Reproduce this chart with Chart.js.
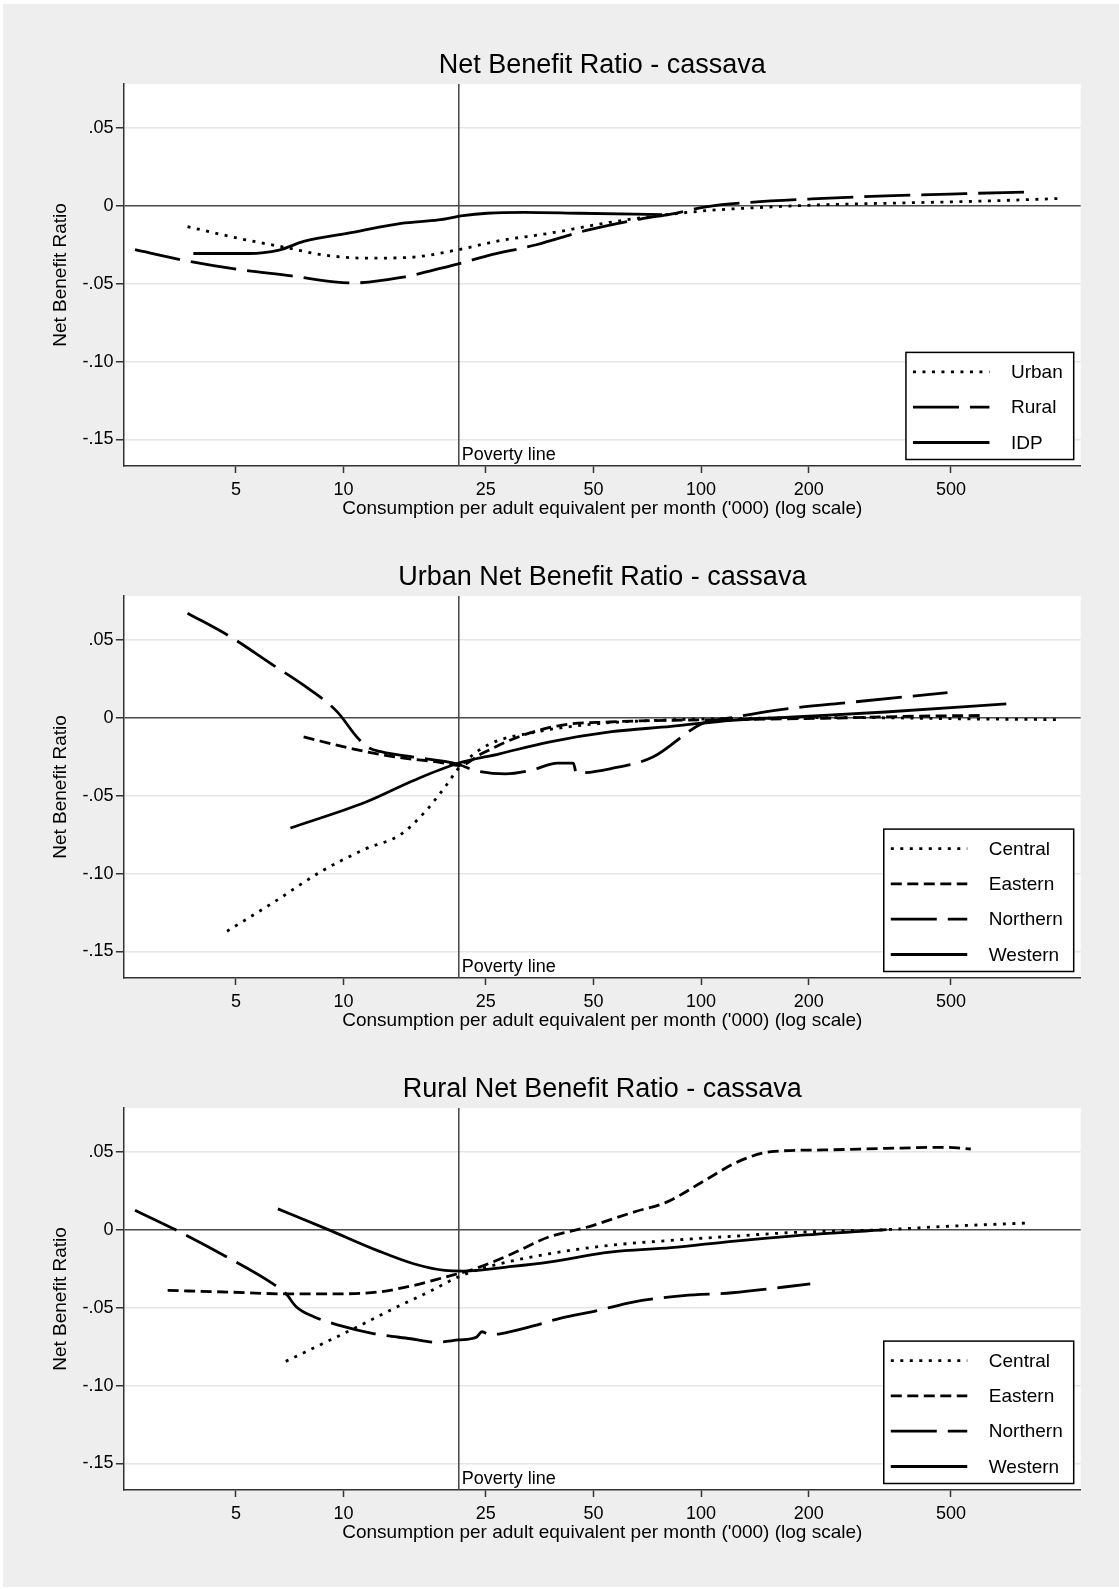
<!DOCTYPE html>
<html>
<head>
<meta charset="UTF-8">
<title>Net Benefit Ratio - cassava</title>
<script src="https://cdn.jsdelivr.net/npm/chart.js"></script>
<style>
  body { margin: 0; background: #fff; font-family: "Liberation Sans", Arial, sans-serif; }
  #fig { position: absolute; left: 3px; top: 4px; width: 1116px; height: 1583px; background: #eeeeee; }
  canvas { position: absolute; left: 0; }
</style>
</head>
<body>
<div id="fig"></div>
<canvas id="c1" width="1119" height="512" style="top:18px"></canvas>
<canvas id="c2" width="1119" height="512" style="top:530px"></canvas>
<canvas id="c3" width="1119" height="512" style="top:1042px"></canvas>

<script>
// axis settings
const xTicks = [5, 10, 25, 50, 100, 200, 500];
const xTickLabels = ['5', '10', '25', '50', '100', '200', '500'];
const yTicks = [0.05, 0, -0.05, -0.10, -0.15];
const yTickLabels = ['.05', '0', '-.05', '-.10', '-.15'];
const povertyLine = 21.0;

// national: Urban / Rural / IDP
const urbanX = [3.66, 5.21, 6.87, 8.71, 11.5, 15.1, 20.7, 27.3, 37.5, 55.6, 76.2, 104, 149, 221, 328, 593, 1025];
const urbanY = [-0.0135, -0.0215, -0.0268, -0.0315, -0.0337, -0.0333, -0.0285, -0.0225, -0.0178, -0.0107, -0.0064, -0.0032, -0.0011, 0.0006, 0.0015, 0.0028, 0.0046];
const ruralX = [2.61, 3.52, 5.01, 7.15, 9.41, 10.6, 14.5, 19.9, 21.6, 25.2, 34.6, 47.4, 67.6, 82.4, 104.4, 137.7, 204, 328, 547, 800];
const ruralY = [-0.0283, -0.0348, -0.0408, -0.0451, -0.0489, -0.0496, -0.0461, -0.0386, -0.0365, -0.0322, -0.0251, -0.0161, -0.0086, -0.0054, -0.0006, 0.0021, 0.0043, 0.0062, 0.0077, 0.0087];
const idpX = [3.80, 5.42, 6.6, 7.73, 10.6, 14.5, 18.4, 21.6, 25.2, 32, 45.6, 77.8];
const idpY = [-0.0307, -0.0307, -0.0285, -0.023, -0.0172, -0.0114, -0.0092, -0.0064, -0.0049, -0.0043, -0.0049, -0.0058];

// urban regions
const uCentralX = [4.72, 6.35, 8.71, 11.5, 14.5, 17.0, 19.2, 21.1, 25.2, 34.6, 51.4, 76.2, 122, 269, 593, 1009];
const uCentralY = [-0.137, -0.1187, -0.0983, -0.0843, -0.0747, -0.0597, -0.0446, -0.0318, -0.0178, -0.0092, -0.0039, -0.0017, -0.0006, 0.0, -0.0009, -0.0013];
const uEasternX = [7.73, 10.6, 14.0, 18.4, 21.1, 24.3, 30.8, 40.5, 55.6, 82.4, 122, 221, 399, 617];
const uEasternY = [-0.0124, -0.020, -0.0253, -0.0285, -0.0307, -0.0232, -0.0124, -0.0049, -0.0028, -0.0017, -0.0013, -0.0004, 0.0009, 0.0014];
const uNorthernX = [3.66, 4.82, 6.35, 7.73, 9.6, 10.9, 11.7, 12.8, 15.7, 20.7, 23.3, 28.4, 33.3, 39.7, 43.9, 44.8, 55.6, 73.3, 100.5, 122, 161, 269, 489];
const uNorthernY = [0.067, 0.0519, 0.0337, 0.0208, 0.0037, -0.0125, -0.019, -0.022, -0.0253, -0.0296, -0.0339, -0.0361, -0.0339, -0.0292, -0.0292, -0.0356, -0.0328, -0.0253, -0.0039, 0.0, 0.0047, 0.0101, 0.016];
const uWesternX = [7.1, 11.5, 15.7, 20.7, 27.3, 37.5, 55.6, 82.4, 122, 182, 328, 714];
const uWesternY = [-0.0708, -0.0543, -0.0403, -0.0296, -0.0232, -0.0157, -0.0092, -0.0056, -0.0017, 0.0004, 0.0036, 0.0088];

// rural regions
const rCentralX = [6.89, 8.67, 10.9, 13.7, 17.3, 21.0, 25.2, 37.5, 55.6, 82.4, 122, 182, 328, 486, 830];
const rCentralY = [-0.0845, -0.0735, -0.0625, -0.051, -0.040, -0.0302, -0.024, -0.0155, -0.0101, -0.0069, -0.0043, -0.0018, 0.0, 0.0021, 0.0043];
const rEasternX = [3.22, 4.82, 6.87, 9.42, 12.4, 15.7, 19.2, 23.3, 29.6, 37.5, 47.5, 65.1, 80.4, 101, 127, 157, 221, 328, 483, 568];
const rEasternY = [-0.039, -0.0401, -0.0412, -0.0412, -0.0401, -0.0358, -0.0305, -0.0251, -0.0155, -0.0047, 0.0013, 0.0114, 0.0178, 0.0307, 0.0436, 0.050, 0.0511, 0.0521, 0.0528, 0.0517];
const rNorthernX = [2.61, 3.38, 4.72, 6.35, 6.89, 7.38, 8.28, 9.73, 12.2, 15.4, 18.1, 21.0, 23.5, 24.4, 25.5, 27.4, 34.4, 40.3, 51.3, 64, 89.3, 122, 202];
const rNorthernY = [0.0124, 0.0, -0.0176, -0.0348, -0.041, -0.0496, -0.056, -0.0614, -0.0668, -0.070, -0.0722, -0.0707, -0.069, -0.0655, -0.0672, -0.0668, -0.0614, -0.0569, -0.0519, -0.0466, -0.0423, -0.0405, -0.0348];
const rWesternX = [6.55, 9.06, 12.4, 15.7, 19.2, 21.6, 29.6, 37.5, 55.6, 82.4, 122, 182, 330];
const rWesternY = [0.0133, 0.0, -0.0133, -0.0219, -0.0262, -0.0266, -0.0236, -0.0208, -0.0144, -0.0116, -0.0075, -0.004, 0.0];

const DOT = [3, 6.5];
const DASH = [11, 5.5];
const LONGDASH = [46, 11];
const SOLID = [];

const X_MIN = 2.4293, X_MAX = 1152.9;
const Y_MIN = -0.167, Y_MAX = 0.078;
const FONT = '"Liberation Sans", Arial, sans-serif';

// white plot region, title, poverty line and boxed legend
const decor = {
  id: 'decor',
  beforeDraw(chart) {
    const {ctx, chartArea: a} = chart;
    ctx.save();
    ctx.fillStyle = '#fff';
    ctx.fillRect(a.left, a.top, a.right - a.left, a.bottom - a.top);
    ctx.restore();
  },
  beforeDatasetsDraw(chart) {
    const {ctx, chartArea: a, scales: {x}} = chart;
    const px = x.getPixelForValue(povertyLine);
    ctx.save();
    ctx.strokeStyle = '#444';
    ctx.lineWidth = 1.5;
    ctx.beginPath();
    ctx.moveTo(px, a.top);
    ctx.lineTo(px, a.bottom);
    ctx.stroke();
    ctx.fillStyle = '#000';
    ctx.font = '18px ' + FONT;
    ctx.textBaseline = 'middle';
    ctx.fillText('Poverty line', px + 3, a.bottom - 11);
    ctx.restore();
  },
  afterDraw(chart) {
    const {ctx, chartArea: a} = chart;
    ctx.save();
    ctx.fillStyle = '#000';
    ctx.font = '27px ' + FONT;
    ctx.textAlign = 'center';
    ctx.textBaseline = 'middle';
    ctx.fillText(chart.options.plugins.decor.title, (a.left + a.right) / 2, 48);

    // legend
    const sets = chart.data.datasets;
    ctx.font = '19px ' + FONT;
    const maxW = Math.max(...sets.map(d => ctx.measureText(d.label).width));
    const w = 105 + maxW + 11;
    const h = 19.5 + (sets.length - 1) * 35.3 + 17;
    const right = a.right - 7, bottom = a.bottom - 6.5;
    const left = right - w, top = bottom - h;
    ctx.fillStyle = '#fff';
    ctx.fillRect(left, top, w, h);
    ctx.strokeStyle = '#000';
    ctx.lineWidth = 1.5;
    ctx.strokeRect(left, top, w, h);
    ctx.textAlign = 'left';
    sets.forEach((d, i) => {
      const y = top + 19.5 + i * 35.3;
      ctx.beginPath();
      ctx.setLineDash(d.borderDash);
      ctx.lineWidth = 2.8;
      ctx.moveTo(left + 7, y);
      ctx.lineTo(left + 83.5, y);
      ctx.stroke();
      ctx.setLineDash([]);
      ctx.fillStyle = '#000';
      ctx.fillText(d.label, left + 105, y + 1);
    });
    ctx.restore();
  }
};

function makeChart(id, title, series) {
  new Chart(document.getElementById(id), {
    type: 'line',
    data: {
      datasets: series.map(s => ({
        label: s.name,
        data: s.x.map((x, i) => ({x: x, y: s.y[i]})),
        borderColor: '#000',
        borderWidth: 2.8,
        borderDash: s.dash,
        pointRadius: 0,
        fill: false,
        cubicInterpolationMode: 'monotone'
      }))
    },
    options: {
      responsive: false,
      animation: false,
      layout: { padding: { top: 66, right: 38.3, bottom: 0, left: 0 } },
      plugins: {
        legend: { display: false },
        tooltip: { enabled: false },
        decor: { title: title }
      },
      scales: {
        x: {
          type: 'logarithmic',
          min: X_MIN, max: X_MAX,
          afterBuildTicks: s => { s.ticks = xTicks.map(v => ({value: v})); },
          afterFit: s => { s.height = 64; },
          ticks: {
            callback: (v, i) => xTickLabels[i],
            autoSkip: false, maxRotation: 0,
            font: { family: FONT, size: 18 }, color: '#000', padding: 6
          },
          grid: { drawOnChartArea: false, tickLength: 7, tickColor: '#333', tickWidth: 1.5 },
          border: { color: '#333', width: 1.5 },
          title: {
            display: true,
            text: "Consumption per adult equivalent per month ('000) (log scale)",
            font: { family: FONT, size: 19 }, color: '#000',
            padding: { top: 0, bottom: 9.6 }
          }
        },
        y: {
          min: Y_MIN, max: Y_MAX,
          afterBuildTicks: s => { s.ticks = yTicks.map(v => ({value: v})); },
          afterFit: s => { s.width = 123.9; },
          ticks: {
            callback: (v, i) => yTickLabels[i],
            font: { family: FONT, size: 18 }, color: '#000', padding: 2.5
          },
          grid: {
            color: c => (c.tick && c.tick.value === 0) ? '#4a4a4a' : '#e6e6e6',
            lineWidth: 1.5, tickLength: 8, tickColor: '#333', tickWidth: 1.5
          },
          border: { color: '#333', width: 1.5 },
          title: {
            display: true, text: 'Net Benefit Ratio',
            font: { family: FONT, size: 19 }, color: '#000',
            padding: { top: 49, bottom: 0 }
          }
        }
      }
    },
    plugins: [decor]
  });
}

makeChart('c1', 'Net Benefit Ratio - cassava', [
  { name: 'Urban', x: urbanX, y: urbanY, dash: DOT },
  { name: 'Rural', x: ruralX, y: ruralY, dash: LONGDASH },
  { name: 'IDP', x: idpX, y: idpY, dash: SOLID }
]);
makeChart('c2', 'Urban Net Benefit Ratio - cassava', [
  { name: 'Central', x: uCentralX, y: uCentralY, dash: DOT },
  { name: 'Eastern', x: uEasternX, y: uEasternY, dash: DASH },
  { name: 'Northern', x: uNorthernX, y: uNorthernY, dash: LONGDASH },
  { name: 'Western', x: uWesternX, y: uWesternY, dash: SOLID }
]);
makeChart('c3', 'Rural Net Benefit Ratio - cassava', [
  { name: 'Central', x: rCentralX, y: rCentralY, dash: DOT },
  { name: 'Eastern', x: rEasternX, y: rEasternY, dash: DASH },
  { name: 'Northern', x: rNorthernX, y: rNorthernY, dash: LONGDASH },
  { name: 'Western', x: rWesternX, y: rWesternY, dash: SOLID }
]);
</script>
</body>
</html>
